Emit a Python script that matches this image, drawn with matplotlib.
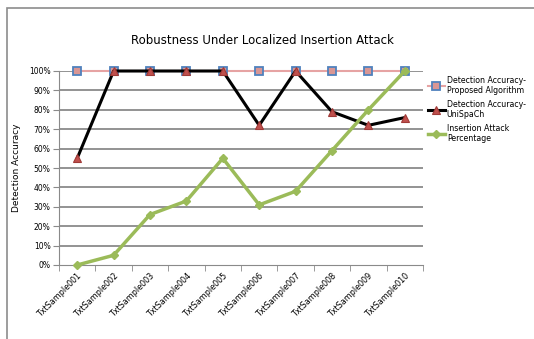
import numpy as np
import matplotlib.pyplot as plt
from matplotlib.patches import Rectangle
from matplotlib.ticker import PercentFormatter

# Data
samples = ['TxtSample001', 'TxtSample002', 'TxtSample003', 'TxtSample004', 'TxtSample005',
           'TxtSample006', 'TxtSample007', 'TxtSample008', 'TxtSample009', 'TxtSample010']
proposed = [100, 100, 100, 100, 100, 100, 100, 100, 100, 100]
unispach = [55, 100, 100, 100, 100, 72, 100, 79, 72, 76]
insertion = [0, 5, 26, 33, 55, 31, 38, 59, 80, 100]

plt.rcParams['font.family'] = ['DejaVu Sans']

fig = plt.figure(figsize=(5.34, 3.39), dpi=100)
ax = fig.add_axes([59 / 534, 1 - 265 / 339, (423 - 59) / 534, (265 - 71) / 339])

# outer chart border
fig.patches.append(Rectangle((7 / 534, -0.05), 1.0, 1 - 8 / 339 + 0.05, transform=fig.transFigure,
                             fill=False, edgecolor='#8c8c8c', linewidth=1.2))

x = np.arange(len(samples))

for v in range(10, 101, 10):
    ax.axhline(v, color='#8a8a8a', linewidth=1.3, zorder=0)

ax.plot(x, proposed, color='#e6a3a3', linewidth=1.5, marker='s', markersize=6,
        markerfacecolor='#d99694', markeredgecolor='#4f81bd', markeredgewidth=1.3,
        label='Detection Accuracy-\nProposed Algorithm', zorder=3, clip_on=False)
ax.plot(x, unispach, color='black', linewidth=2.2, marker='^', markersize=6,
        markerfacecolor='#c0504d', markeredgecolor='#a03a37', markeredgewidth=0.8,
        label='Detection Accuracy-\nUniSpaCh', zorder=4, clip_on=False)
ax.plot(x, insertion, color='#9bbb59', linewidth=2.5, marker='D', markersize=4.5,
        markerfacecolor='#9bbb59', markeredgecolor='#9bbb59',
        label='Insertion Attack\nPercentage', zorder=5, clip_on=False)

ax.set_xlim(-0.5, len(samples) - 0.5)
ax.set_ylim(0, 100)
ax.set_yticks(range(0, 101, 10))
ax.yaxis.set_major_formatter(PercentFormatter(decimals=0))
ax.set_xticks(x)
ax.set_xticklabels(samples, rotation=45, ha='right', rotation_mode='anchor', fontsize=5.8)
ax.set_xticks(np.arange(-0.5, len(samples), 1), minor=True)
ax.tick_params(axis='x', which='major', length=0, pad=5)
ax.tick_params(axis='x', which='minor', length=4, color='#8a8a8a')
ax.tick_params(axis='y', labelsize=5.5, length=4, color='#8a8a8a', pad=2)

for side in ['top', 'right']:
    ax.spines[side].set_visible(False)
ax.spines['left'].set_color('#8a8a8a')
ax.spines['bottom'].set_color('#8a8a8a')

ax.set_ylabel('Detection Accuracy', fontsize=6.5, labelpad=6)
fig.text(262 / 534, 1 - 40 / 339, 'Robustness Under Localized Insertion Attack',
         ha='center', va='center', fontsize=8.5)

ax.legend(loc='upper left', bbox_to_anchor=(1.0, 1.0), frameon=False, fontsize=5.7,
          handlelength=2.2, handletextpad=0.2, labelspacing=0.6, borderaxespad=0.2)

fig.savefig('out.png', dpi=100)
